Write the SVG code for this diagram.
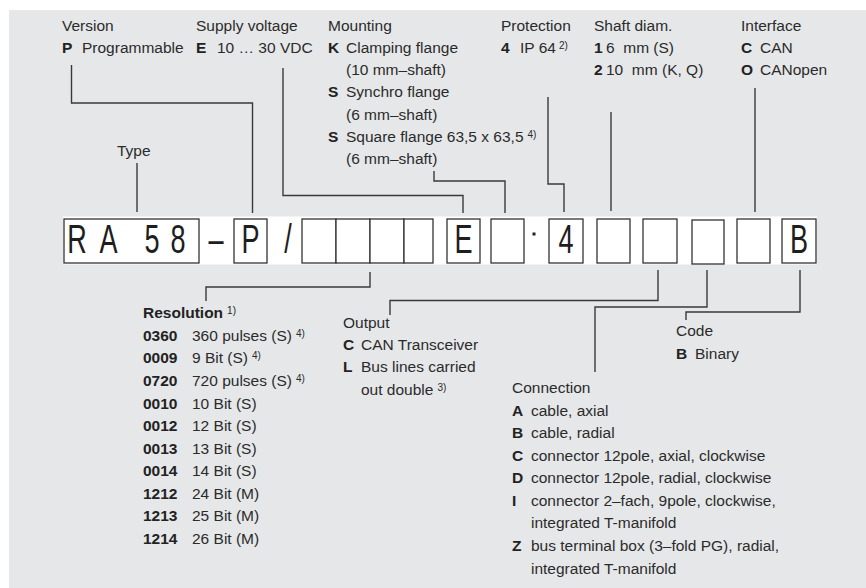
<svg xmlns="http://www.w3.org/2000/svg" width="866" height="588" viewBox="0 0 866 588">
<style>
text{font-family:"Liberation Sans",Arial,sans-serif;font-size:15.5px;fill:#2b2b2b}
.b{font-weight:bold;fill:#222}
.sup{font-size:10px}
.big{font-size:41px;fill:#1e1e1e;text-anchor:middle}
.box{fill:#fff;stroke:#333;stroke-width:1.3}
.ln{fill:none;stroke:#3a3a3a;stroke-width:1.4}
</style>
<rect x="9" y="10" width="857" height="578" fill="#e6e7e9"/>
<rect x="63" y="216.5" width="754" height="48" fill="#fff"/>

<g id="type-code">
<rect class="box" x="64" y="219" width="135" height="44"/>
<text class="big" transform="translate(77,253) scale(0.66,1)">R</text>
<text class="big" transform="translate(108.5,253) scale(0.66,1)">A</text>
<text class="big" transform="translate(152,253) scale(0.66,1)">5</text>
<text class="big" transform="translate(178,253) scale(0.66,1)">8</text>
<text class="big" transform="translate(216,253) scale(0.66,1)">–</text>
<rect class="box" x="234" y="219" width="33" height="44"/>
<text class="big" transform="translate(250.5,253) scale(0.66,1)">P</text>
<text class="big" transform="translate(288,253) scale(0.66,1)">/</text>
<rect class="box" x="302" y="219" width="34" height="44"/>
<rect class="box" x="336" y="219" width="34" height="44"/>
<rect class="box" x="370" y="219" width="34" height="44"/>
<rect class="box" x="404" y="219" width="29" height="44"/>
<rect class="box" x="447" y="219" width="33" height="44"/>
<text class="big" transform="translate(463.5,253) scale(0.66,1)">E</text>
<rect class="box" x="491" y="219" width="33" height="44"/>
<rect x="532.5" y="232.5" width="3" height="3" fill="#222"/>
<rect class="box" x="549" y="219" width="34" height="44"/>
<text class="big" transform="translate(566,253) scale(0.66,1)">4</text>
<rect class="box" x="597" y="219" width="33" height="44"/>
<rect class="box" x="643" y="219" width="34" height="44"/>
<rect class="box" x="692" y="220" width="32" height="44"/>
<rect class="box" x="737" y="219" width="33" height="44"/>
<rect class="box" x="782" y="219" width="34" height="44"/>
<text class="big" transform="translate(799,253) scale(0.66,1)">B</text>
</g>

<g id="type-label">
<text x="117" y="156">Type</text>
</g>

<g id="version">
<text x="62" y="31">Version</text>
<text class="b" x="62" y="53">P</text>
<text x="82" y="53">Programmable</text>
</g>

<g id="supply">
<text x="196" y="31">Supply voltage</text>
<text class="b" x="196" y="53">E</text>
<text x="217" y="53">10 … 30 VDC</text>
</g>

<g id="mounting">
<text x="328" y="31">Mounting</text>
<text class="b" x="328" y="53">K</text>
<text x="346" y="53">Clamping flange</text>
<text x="346" y="75">(10 mm–shaft)</text>
<text class="b" x="328" y="97">S</text>
<text x="346" y="97">Synchro flange</text>
<text x="346" y="120">(6 mm–shaft)</text>
<text class="b" x="328" y="142">S</text>
<text x="346" y="142">Square flange 63,5 x 63,5<tspan class="sup" dx="4" dy="-4">4)</tspan></text>
<text x="346" y="164">(6 mm–shaft)</text>
</g>

<g id="protection">
<text x="501" y="31">Protection</text>
<text class="b" x="501" y="53">4</text>
<text x="520" y="53">IP 64<tspan class="sup" dx="3" dy="-4">2)</tspan></text>
</g>

<g id="shaft">
<text x="594" y="31">Shaft diam.</text>
<text class="b" x="594" y="53">1</text>
<text x="606" y="53" xml:space="preserve">6  mm (S)</text>
<text class="b" x="594" y="75">2</text>
<text x="606" y="75" xml:space="preserve">10  mm (K, Q)</text>
</g>

<g id="interface">
<text x="741" y="31">Interface</text>
<text class="b" x="741" y="53">C</text>
<text x="760" y="53">CAN</text>
<text class="b" x="741" y="75">O</text>
<text x="760" y="75">CANopen</text>
</g>

<g id="resolution">
<text class="b" x="143" y="318">Resolution<tspan class="sup" font-weight="normal" dx="4" dy="-4">1)</tspan></text>
<text class="b" x="143" y="341">0360</text><text x="192" y="341">360 pulses (S)<tspan class="sup" dx="4" dy="-4">4)</tspan></text>
<text class="b" x="143" y="363">0009</text><text x="192" y="363">9 Bit (S)<tspan class="sup" dx="4" dy="-4">4)</tspan></text>
<text class="b" x="143" y="386">0720</text><text x="192" y="386">720 pulses (S)<tspan class="sup" dx="4" dy="-4">4)</tspan></text>
<text class="b" x="143" y="408.5">0010</text><text x="192" y="408.5">10 Bit (S)</text>
<text class="b" x="143" y="431">0012</text><text x="192" y="431">12 Bit (S)</text>
<text class="b" x="143" y="453.5">0013</text><text x="192" y="453.5">13 Bit (S)</text>
<text class="b" x="143" y="476">0014</text><text x="192" y="476">14 Bit (S)</text>
<text class="b" x="143" y="499">1212</text><text x="192" y="499">24 Bit (M)</text>
<text class="b" x="143" y="521">1213</text><text x="192" y="521">25 Bit (M)</text>
<text class="b" x="143" y="544">1214</text><text x="192" y="544">26 Bit (M)</text>
</g>

<g id="output">
<text x="343" y="328">Output</text>
<text class="b" x="343" y="350">C</text>
<text x="361" y="350">CAN Transceiver</text>
<text class="b" x="343" y="372">L</text>
<text x="361" y="372">Bus lines carried</text>
<text x="361" y="395">out double<tspan class="sup" dx="4" dy="-4">3)</tspan></text>
</g>

<g id="connection">
<text x="512" y="393">Connection</text>
<text class="b" x="512" y="416">A</text><text x="531" y="416">cable, axial</text>
<text class="b" x="512" y="438">B</text><text x="531" y="438">cable, radial</text>
<text class="b" x="512" y="461">C</text><text x="531" y="461">connector 12pole, axial, clockwise</text>
<text class="b" x="512" y="483">D</text><text x="531" y="483">connector 12pole, radial, clockwise</text>
<text class="b" x="512" y="506">I</text><text x="531" y="506">connector 2–fach, 9pole, clockwise,</text>
<text x="531" y="528">integrated T-manifold</text>
<text class="b" x="512" y="551">Z</text><text x="531" y="551">bus terminal box (3–fold PG), radial,</text>
<text x="531" y="574">integrated T-manifold</text>
</g>

<g id="code">
<text x="676" y="336">Code</text>
<text class="b" x="676" y="359">B</text>
<text x="695" y="359">Binary</text>
</g>

<g id="connectors">
<path class="ln" d="M137,163 V212"/>
<path class="ln" d="M71.5,65 V103 H252.5 V213"/>
<path class="ln" d="M283,68 V195.5 H463 V213"/>
<path class="ln" d="M434,171 V181 H505 V213"/>
<path class="ln" d="M548,97 V184 H564 V212"/>
<path class="ln" d="M611,112 V211"/>
<path class="ln" d="M755,88 V212"/>
<path class="ln" d="M370,272 V287 H206 V301"/>
<path class="ln" d="M658,270 V300.5 H390 V315"/>
<path class="ln" d="M707,270 V307 H595 V372"/>
<path class="ln" d="M800,270 V312 H686 V320"/>
</g>
</svg>
